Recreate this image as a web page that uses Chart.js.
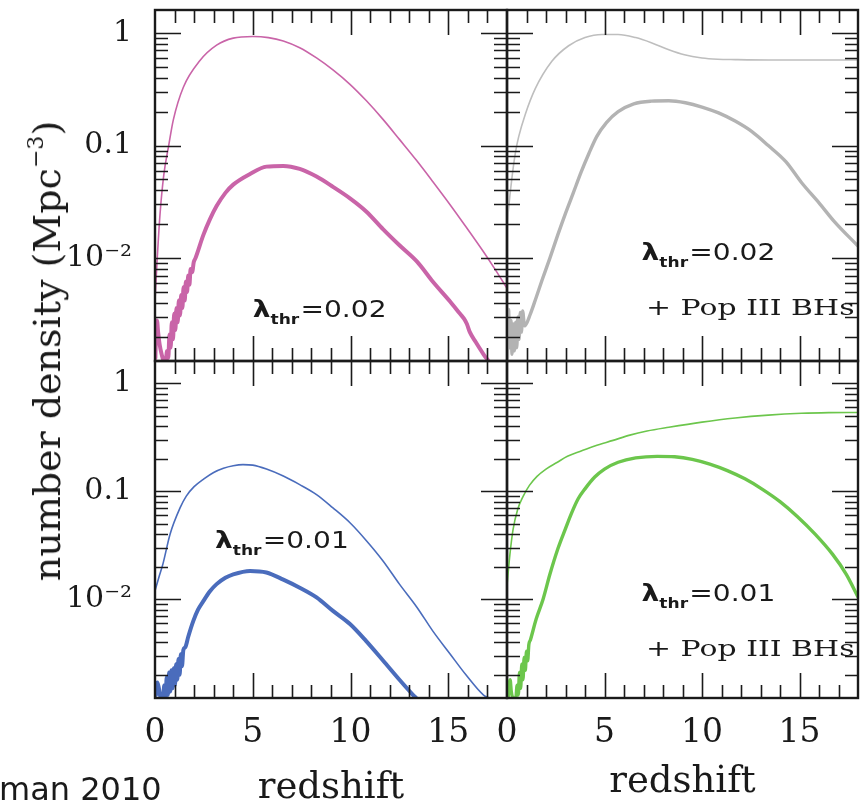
<!DOCTYPE html>
<html>
<head>
<meta charset="utf-8">
<script src="https://cdn.jsdelivr.net/npm/chart.js@4.4.0/dist/chart.umd.min.js"></script>
<style>
  html, body { margin: 0; padding: 0; background: #fff; }
  #wrap { position: relative; width: 863px; height: 808px; background: #fff; overflow: hidden; }
  #wrap canvas { position: absolute; left: 0; top: 0; width: 863px; height: 808px; }
  .ytitle {
    position: absolute; left: 47px; top: 351px;
    transform: translate(-50%, -50%) rotate(-90deg);
    font-family: "DejaVu Serif", serif; font-size: 38px; line-height: 38px;
    white-space: nowrap; color: #1a1a1a;
  }
  .ytitle sup { font-size: 0.58em; line-height: 0; vertical-align: 0.75em; }
  .cite {
    position: absolute; left: -1px; top: 773px;
    font-family: "DejaVu Sans", sans-serif; font-size: 32px; line-height: 32px;
    white-space: nowrap; color: #1a1a1a;
  }
</style>
</head>
<body>
<div id="wrap">
  <canvas id="cTL" width="863" height="808"></canvas>
  <canvas id="cTR" width="863" height="808"></canvas>
  <canvas id="cBL" width="863" height="808"></canvas>
  <canvas id="cBR" width="863" height="808"></canvas>
  <div class="ytitle">number density (Mpc<sup>−3</sup>)</div>
  <div class="cite">man 2010</div>
</div>
<script>
// ---- axis definitions ----
const zMin = 0, zMax = 18;
const nMin = 0.00122, nMax = 1.6;
const xTickValues = [0, 5, 10, 15];
const xTickLabels = ['0', '5', '10', '15'];
const yTickValues = [0.01, 0.1, 1];
const yTickLabels = ['10\u207B\u00B2', '0.1', '1'];

// ---- lambda_thr = 0.02 (pink) ----
const zPinkAll = [0, 0.1, 0.26, 0.45, 0.7, 0.94, 1.45, 2.3, 3.15, 4.0, 5.0, 5.8, 6.56, 7.4, 8.26, 9.1, 9.97, 10.8, 11.67, 12.5, 13.37, 14.2, 15.08, 15.9, 16.78, 17.4, 18];
const nPinkAll = [0.0042, 0.009, 0.025, 0.055, 0.10, 0.17, 0.33, 0.57, 0.78, 0.90, 0.93, 0.91, 0.85, 0.74, 0.60, 0.47, 0.35, 0.251, 0.17, 0.1135, 0.074, 0.048, 0.030, 0.019, 0.0115, 0.0079, 0.0054];
const zPinkAct = [0.02, 0.06, 0.10, 0.16, 0.24, 0.34, 0.44, 0.54, 0.62, 0.68, 0.74, 0.80, 0.86, 0.92, 0.98, 1.04, 1.10, 1.16, 1.22, 1.28, 1.34, 1.40, 1.46, 1.52, 1.58, 1.64, 1.70, 1.76, 1.82, 1.90, 1.98, 2.07, 2.47, 2.8, 3.15, 3.6, 4.0, 4.86, 5.7, 6.56, 7.4, 8.26, 9.1, 9.97, 10.8, 11.67, 12.5, 13.4, 14.2, 15.1, 15.6, 15.8, 15.95, 16.1, 16.4, 16.8, 17.05];
const nPinkAct = [0.0013, 0.0024, 0.0028, 0.0022, 0.0017, 0.0014, 0.00123, 0.00122, 0.0015, 0.0013, 0.0021, 0.0016, 0.0027, 0.0019, 0.0032, 0.0023, 0.0036, 0.0027, 0.0042, 0.0031, 0.0047, 0.0036, 0.0055, 0.0042, 0.0062, 0.0050, 0.0070, 0.0058, 0.0080, 0.0075, 0.0092, 0.0100, 0.016, 0.022, 0.029, 0.038, 0.045, 0.056, 0.065, 0.066, 0.062, 0.053, 0.043, 0.034, 0.026, 0.018, 0.013, 0.0093, 0.0062, 0.0041, 0.0032, 0.0029, 0.0026, 0.0022, 0.0018, 0.0014, 0.00122];

// ---- lambda_thr = 0.02 + Pop III BHs (grey) ----
const zGreyAll = [0, 0.15, 0.3, 0.45, 0.6, 0.94, 1.45, 2.3, 3.16, 4.0, 4.87, 5.7, 6.6, 7.4, 8.3, 9.1, 10, 10.8, 11.7, 13.4, 15.1, 18];
const nGreyAll = [0.02, 0.036, 0.06, 0.09, 0.12, 0.19, 0.32, 0.56, 0.77, 0.91, 0.97, 0.97, 0.91, 0.82, 0.71, 0.64, 0.60, 0.585, 0.58, 0.575, 0.575, 0.575];
const zGreyAct = [0.02, 0.08, 0.14, 0.2, 0.26, 0.32, 0.38, 0.44, 0.5, 0.56, 0.62, 0.68, 0.74, 0.8, 0.9, 1.2, 1.5, 1.8, 2.2, 2.6, 3.0, 3.4, 3.8, 4.2, 4.6, 5.1, 5.7, 6.5, 7.4, 8.3, 9.15, 10, 10.85, 11.7, 12.56, 13.4, 14.3, 15.1, 16.0, 16.8, 18];
const nGreyAct = [0.0013, 0.0035, 0.0016, 0.0028, 0.0014, 0.0026, 0.0015, 0.0027, 0.0016, 0.0030, 0.0019, 0.0033, 0.0022, 0.0034, 0.0025, 0.0032, 0.0045, 0.0064, 0.010, 0.016, 0.025, 0.038, 0.058, 0.085, 0.12, 0.16, 0.20, 0.235, 0.248, 0.25, 0.24, 0.22, 0.195, 0.165, 0.133, 0.10, 0.072, 0.047, 0.031, 0.021, 0.0128];

// ---- lambda_thr = 0.01 (blue) ----
const zBlueAll = [0, 0.2, 0.4, 0.77, 1.28, 1.6, 2.0, 2.5, 3.0, 3.5, 4.0, 4.5, 5.0, 5.7, 6.56, 7.4, 8.26, 9.1, 9.97, 10.8, 11.67, 12.5, 13.4, 14.2, 15.1, 15.9, 16.8, 17.1];
const nBlueAll = [0.012, 0.016, 0.021, 0.04, 0.07, 0.09, 0.11, 0.13, 0.149, 0.163, 0.172, 0.176, 0.174, 0.16, 0.138, 0.115, 0.093, 0.07, 0.051, 0.035, 0.0225, 0.0138, 0.0084, 0.0051, 0.0031, 0.0020, 0.0013, 0.00122];
const zBlueAct = [0.05, 0.12, 0.2, 0.28, 0.4, 0.48, 0.54, 0.6, 0.66, 0.72, 0.78, 0.84, 0.9, 0.96, 1.02, 1.08, 1.14, 1.2, 1.26, 1.32, 1.38, 1.45, 1.55, 1.7, 1.96, 2.2, 2.47, 2.8, 3.15, 3.6, 4.0, 4.86, 5.7, 6.56, 7.4, 8.26, 9.1, 9.97, 10.8, 11.67, 12.5, 13.2, 13.35];
const nBlueAct = [0.0013, 0.0017, 0.0015, 0.00124, 0.00122, 0.0016, 0.00125, 0.0019, 0.0013, 0.0021, 0.0014, 0.0022, 0.0015, 0.0023, 0.0016, 0.0025, 0.0018, 0.0028, 0.0020, 0.0031, 0.0024, 0.0034, 0.0036, 0.0045, 0.0063, 0.0080, 0.0096, 0.0118, 0.0138, 0.0158, 0.017, 0.0183, 0.0177, 0.0152, 0.0128, 0.0104, 0.0078, 0.0059, 0.0041, 0.0027, 0.0018, 0.0013, 0.00122];

// ---- lambda_thr = 0.01 + Pop III BHs (green) ----
const zGreenAll = [0, 0.15, 0.31, 0.55, 0.82, 1.15, 1.54, 2.0, 2.56, 3.1, 3.74, 4.5, 5.44, 6.3, 7.18, 8.3, 10, 11.7, 13.4, 15.1, 16.5, 18];
const nGreenAll = [0.0135, 0.026, 0.044, 0.068, 0.089, 0.113, 0.137, 0.16, 0.184, 0.21, 0.233, 0.262, 0.295, 0.33, 0.36, 0.39, 0.435, 0.475, 0.505, 0.525, 0.533, 0.535];
const zGreenAct = [0.06, 0.1, 0.16, 0.22, 0.3, 0.45, 0.52, 0.58, 0.64, 0.7, 0.76, 0.82, 0.88, 0.94, 1.0, 1.06, 1.12, 1.2, 1.5, 1.85, 2.2, 2.6, 3.0, 3.3, 3.65, 4.0, 4.5, 5.0, 5.7, 6.6, 7.7, 8.6, 9.5, 10.4, 11.3, 12.2, 13.1, 14.0, 14.9, 15.8, 16.7, 17.4, 18];
const nGreenAct = [0.00122, 0.0016, 0.0018, 0.0014, 0.00123, 0.00122, 0.0016, 0.0013, 0.0021, 0.0015, 0.0025, 0.0018, 0.0029, 0.0022, 0.0033, 0.0027, 0.0038, 0.0042, 0.0066, 0.010, 0.017, 0.029, 0.045, 0.062, 0.085, 0.105, 0.135, 0.16, 0.185, 0.203, 0.21, 0.208, 0.197, 0.178, 0.155, 0.13, 0.104, 0.08, 0.058, 0.04, 0.026, 0.017, 0.0105];

// ---- helpers ----
const pairs = (zs, ns) => zs.map((z, i) => ({ x: z, y: ns[i] }));

function lineSet(zs, ns, color, width) {
  return {
    data: pairs(zs, ns),
    borderColor: color,
    borderWidth: width,
    pointRadius: 0,
    fill: false,
    cubicInterpolationMode: 'monotone',
    borderJoinStyle: 'round',
    borderCapStyle: 'round'
  };
}

const INK = '#1a1a1a';

// Draws "λ_thr=value" with a bold subscript, slightly widened.
function drawLambda(ctx, px, py, value) {
  ctx.save();
  ctx.translate(px, py);
  ctx.scale(1.22, 1);
  ctx.fillStyle = INK;
  ctx.textBaseline = 'alphabetic';
  ctx.textAlign = 'left';
  ctx.font = 'bold 23px "DejaVu Sans"';
  ctx.fillText('\u03BB', 0, 0);
  let w = ctx.measureText('\u03BB').width;
  ctx.font = 'bold 14px "DejaVu Sans"';
  ctx.fillText('thr', w, 7);
  w += ctx.measureText('thr').width + 1;
  ctx.font = '23px "DejaVu Sans"';
  ctx.fillText('=' + value, w, 0);
  ctx.restore();
}

function drawText(ctx, px, py, text) {
  ctx.save();
  ctx.translate(px, py);
  ctx.scale(1.3, 1);
  ctx.fillStyle = INK;
  ctx.textBaseline = 'alphabetic';
  ctx.textAlign = 'left';
  ctx.font = '23px "DejaVu Serif"';
  ctx.fillText(text, 0, 0);
  ctx.restore();
}

// Boxed frame with inward ticks on all four sides, plus panel notes.
const panelDecor = {
  id: 'panelDecor',
  afterDatasetsDraw(chart, args, opts) {
    const { ctx, chartArea: a, scales: { x, y } } = chart;
    ctx.save();
    ctx.strokeStyle = INK;
    ctx.lineWidth = 1.6;
    ctx.beginPath();
    for (let t = zMin + 1; t < zMax; t++) {
      const px = Math.round(x.getPixelForValue(t)) + 0.5;
      const len = t % 5 === 0 ? 25 : 13;
      ctx.moveTo(px, a.top); ctx.lineTo(px, a.top + len);
      ctx.moveTo(px, a.bottom); ctx.lineTo(px, a.bottom - len);
    }
    for (let d = -3; d <= 0; d++) {
      for (let m = 1; m <= 9; m++) {
        const v = m * Math.pow(10, d);
        if (v <= y.min || v >= y.max) continue;
        const py = Math.round(y.getPixelForValue(v)) + 0.5;
        const len = m === 1 ? 26 : 13;
        ctx.moveTo(a.left, py); ctx.lineTo(a.left + len, py);
        ctx.moveTo(a.right, py); ctx.lineTo(a.right - len, py);
      }
    }
    ctx.stroke();
    ctx.lineWidth = 2.4;
    ctx.strokeRect(a.left, a.top, a.right - a.left, a.bottom - a.top);
    ctx.restore();

    (opts.notes || []).forEach(n => {
      const px = x.getPixelForValue(n.z);
      const py = y.getPixelForValue(n.n);
      if (n.lambda) drawLambda(ctx, px, py, n.lambda);
      else drawText(ctx, px, py, n.text);
    });
  }
};

function makePanel(id, cfg) {
  const yScale = {
    type: 'logarithmic', min: nMin, max: nMax,
    display: cfg.showY,
    grid: { display: false, drawTicks: false },
    border: { display: false },
    afterBuildTicks: s => { s.ticks = yTickValues.map(v => ({ value: v })); },
    ticks: {
      callback: (v, i) => yTickLabels[i],
      font: { family: 'DejaVu Serif', size: 30 },
      color: INK, padding: 23, autoSkip: false
    },
    afterFit: s => {
      s.width = cfg.showY ? 155 : 0;
      s.paddingTop = 0; s.paddingBottom = 0;
    }
  };
  const xScale = {
    type: 'linear', min: zMin, max: zMax,
    display: cfg.showX,
    grid: { display: false, drawTicks: false },
    border: { display: false },
    afterBuildTicks: s => { s.ticks = xTickValues.map(v => ({ value: v })); },
    ticks: {
      callback: (v, i) => xTickLabels[i],
      font: { family: 'DejaVu Serif', size: 33 },
      color: INK, padding: 16, maxRotation: 0, autoSkip: false
    },
    title: {
      display: true, text: 'redshift', color: INK,
      font: { family: 'DejaVu Serif', size: 37 },
      padding: { top: 0, bottom: cfg.titlePad }
    },
    afterFit: s => {
      s.height = cfg.showX ? 110 : 0;
      s.paddingLeft = 0; s.paddingRight = 0;
    }
  };
  return new Chart(document.getElementById(id), {
    type: 'line',
    data: { datasets: cfg.datasets },
    options: {
      responsive: false,
      animation: false,
      events: [],
      layout: { padding: cfg.padding },
      scales: { x: xScale, y: yScale },
      plugins: {
        legend: { display: false },
        tooltip: { enabled: false },
        panelDecor: { notes: cfg.notes }
      }
    },
    plugins: [panelDecor]
  });
}

const PINK = '#c964a8', GREY_THIN = '#bebebe', GREY = '#b3b3b3', BLUE = '#4a6cbc', GREEN = '#6cc64c';

makePanel('cTL', {
  showY: true, showX: false, titlePad: 0,
  padding: { left: 0, top: 10, right: 356, bottom: 447 },
  datasets: [lineSet(zPinkAll, nPinkAll, PINK, 1.6), lineSet(zPinkAct, nPinkAct, PINK, 4)],
  notes: [{ z: 5.0, n: 0.0030, lambda: '0.02' }]
});
makePanel('cTR', {
  showY: false, showX: false, titlePad: 0,
  padding: { left: 507, top: 10, right: 5, bottom: 447 },
  datasets: [lineSet(zGreyAll, nGreyAll, GREY_THIN, 1.6), lineSet(zGreyAct, nGreyAct, GREY, 3.4)],
  notes: [{ z: 6.9, n: 0.0096, lambda: '0.02' }, { z: 7.13, n: 0.0031, text: '+ Pop III BHs' }]
});
makePanel('cBL', {
  showY: true, showX: true, titlePad: -3,
  padding: { left: 0, top: 361, right: 356, bottom: 0 },
  datasets: [lineSet(zBlueAll, nBlueAll, BLUE, 1.6), lineSet(zBlueAct, nBlueAct, BLUE, 4)],
  notes: [{ z: 3.07, n: 0.0296, lambda: '0.01' }]
});
makePanel('cBR', {
  showY: false, showX: true, titlePad: 3,
  padding: { left: 507, top: 361, right: 5, bottom: 0 },
  datasets: [lineSet(zGreenAll, nGreenAll, GREEN, 1.6), lineSet(zGreenAct, nGreenAct, GREEN, 3.4)],
  notes: [{ z: 6.9, n: 0.0096, lambda: '0.01' }, { z: 7.13, n: 0.0030, text: '+ Pop III BHs' }]
});
</script>
</body>
</html>
